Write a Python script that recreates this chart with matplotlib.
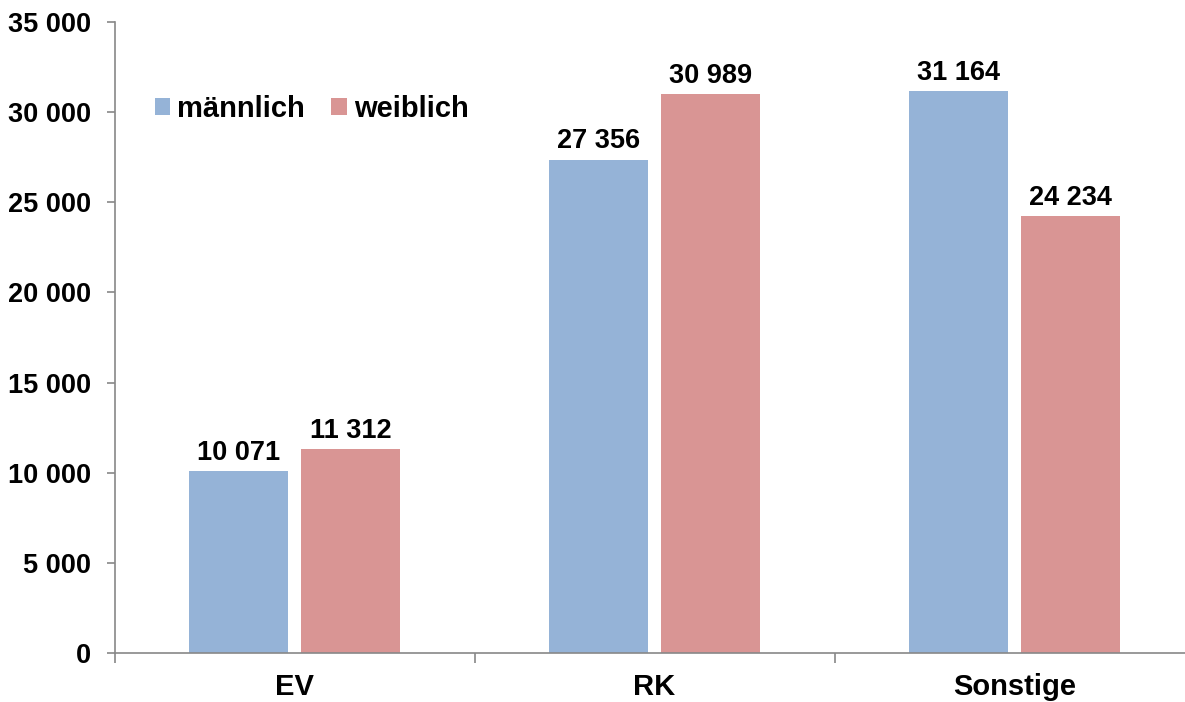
import matplotlib
matplotlib.use("Agg")
import matplotlib.pyplot as plt
import numpy as np

categories = ["EV", "RK", "Sonstige"]
maennlich = [10071, 27356, 31164]
weiblich = [11312, 30989, 24234]
series_names = ["männlich", "weiblich"]
yticks = [0, 5000, 10000, 15000, 20000, 25000, 30000, 35000]

plt.rcParams['font.family'] = ['Liberation Sans', 'DejaVu Sans']
plt.rcParams['font.weight'] = 'bold'

def fmt(v):
    return f"{v:,}".replace(",", " ")

fig = plt.figure(figsize=(11.85, 7.02), dpi=100)
ax = fig.add_axes([114.5/1185, 1-653/702, 1080/1185, (653-22)/702])

x = np.arange(len(categories))
w = 0.275
off = 0.156
c_m = "#95B3D7"
c_w = "#D99594"
b1 = ax.bar(x - off, maennlich, w, color=c_m, label=series_names[0])
b2 = ax.bar(x + off, weiblich, w, color=c_w, label=series_names[1])
for bars, vals in ((b1, maennlich), (b2, weiblich)):
    for b, v in zip(bars, vals):
        ax.annotate(fmt(v), (b.get_x() + b.get_width()/2, v), xytext=(0, 4),
                    textcoords="offset points", ha="center", va="bottom",
                    fontsize=19.5, fontweight="bold")

ax.set_xlim(-0.5, 2.5)
ax.set_ylim(0, 35000)
ax.set_yticks(yticks)
ax.set_yticklabels([fmt(v) for v in yticks], fontsize=19.5, fontweight="bold")
ax.set_xticks([-0.5, 0.5, 1.5, 2.5])
ax.set_xticklabels([])
ax.set_xticks(x, minor=True)
ax.set_xticklabels(categories, minor=True, fontsize=21, fontweight="bold")
ax.tick_params(axis="x", which="minor", length=0, pad=14.5)
ax.tick_params(axis="x", which="major", length=7, color="#888888", width=1.2)
ax.tick_params(axis="y", length=6, color="#888888", width=1.2, pad=11)
for s in ("top", "right"):
    ax.spines[s].set_visible(False)
for s in ("left", "bottom"):
    ax.spines[s].set_color("#888888")
    ax.spines[s].set_linewidth(1.2)

leg = ax.legend(loc="upper left", bbox_to_anchor=(0.0135, 0.926), ncol=2, frameon=False,
                handlelength=0.52, handleheight=0.52, handletextpad=0.24,
                columnspacing=0.9, prop={"weight": "bold", "size": 21})

fig.savefig("out.png", dpi=100)
